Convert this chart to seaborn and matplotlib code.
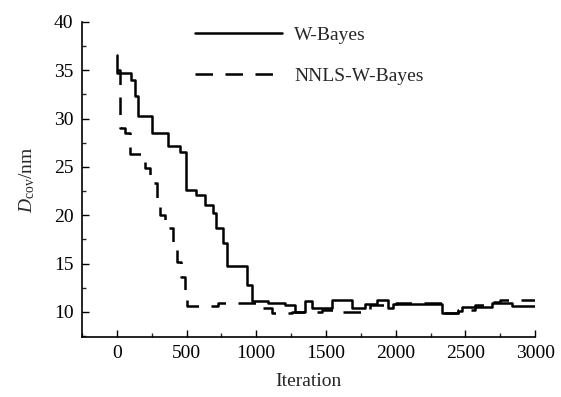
import matplotlib
matplotlib.use("Agg")
import matplotlib.pyplot as plt
import seaborn as sns
import pandas as pd
from matplotlib.ticker import MultipleLocator

# W-Bayes step curve (iteration, D_cov)
wb_x = [0, 2, 105, 130, 150, 250, 365, 452, 493, 571, 632, 691, 715, 763, 787, 931, 967,
        1086, 1206, 1278, 1350, 1400, 1541, 1685, 1780, 1864, 1948, 1984, 2331, 2450,
        2474, 2690, 2833, 3000]
wb_y = [36.6, 34.7, 34.0, 32.3, 30.3, 28.5, 27.2, 26.5, 22.6, 22.1, 21.1, 20.2, 18.7, 17.1,
        14.8, 12.8, 11.1, 10.9, 10.7, 10.0, 11.1, 10.4, 11.2, 10.4, 10.8, 11.2, 10.4, 10.8,
        9.9, 10.1, 10.5, 10.9, 10.6, 10.6]

# NNLS-W-Bayes step curve
nn_x = [0, 20, 60, 95, 200, 237, 285, 309, 345, 404, 435, 459, 488, 500, 727, 1003, 1110,
        1254, 1470, 1600, 1660, 1815, 2000, 2331, 2450, 2570, 2650, 2750, 3000]
nn_y = [35.0, 29.0, 28.5, 26.3, 24.9, 23.3, 21.6, 20.0, 18.7, 17.0, 15.2, 13.6, 11.9, 10.6,
        10.9, 10.4, 9.9, 10.0, 10.2, 10.0, 10.0, 10.7, 10.9, 9.9, 10.2, 10.7, 11.0, 11.2, 11.2]

labels = ["W-Bayes", "NNLS-W-Bayes"]
x_ticks = [0, 500, 1000, 1500, 2000, 2500, 3000]
y_ticks = [10, 15, 20, 25, 30, 35, 40]

sns.set_theme(style="ticks")
plt.rcParams['font.family'] = ['Liberation Serif', 'DejaVu Serif']
plt.rcParams['mathtext.fontset'] = 'custom'
plt.rcParams['mathtext.rm'] = 'Liberation Serif'
plt.rcParams['mathtext.it'] = 'Liberation Serif:italic'

fig = plt.figure(figsize=(5.61, 3.97), dpi=100)
ax = fig.add_axes([0.146, 0.151, 0.808, 0.794])

dash = (0, (7, 5))

df1 = pd.DataFrame({"x": wb_x, "y": wb_y})
df2 = pd.DataFrame({"x": nn_x, "y": nn_y})
sns.lineplot(data=df1, x="x", y="y", ax=ax, color="black", lw=1.8,
             drawstyle="steps-post", estimator=None, sort=False, label=labels[0])
sns.lineplot(data=df2, x="x", y="y", ax=ax, color="black", lw=1.8,
             drawstyle="steps-post", estimator=None, sort=False, label=labels[1])
ax.lines[1].set_linestyle(dash)

ax.set_xlim(-250, 3000)
ax.set_ylim(7.4, 40)
ax.set_xticks(x_ticks)
ax.set_yticks(y_ticks)
ax.xaxis.set_minor_locator(MultipleLocator(250))
ax.yaxis.set_minor_locator(MultipleLocator(2.5))
ax.tick_params(axis='both', which='major', direction='in', length=5, width=1,
               labelsize=14, colors='black', pad=6)
ax.tick_params(axis='both', which='minor', direction='in', length=3, width=1)
for s in ["top", "right"]:
    ax.spines[s].set_visible(False)
for s in ["left", "bottom"]:
    ax.spines[s].set_linewidth(1.2)
    ax.spines[s].set_color("black")

ax.set_xlabel("Iteration", fontsize=14, labelpad=8)
ax.set_ylabel(r"$D_{\mathrm{cov}}$/nm", fontsize=14, labelpad=12)

leg = ax.legend(loc="upper left", bbox_to_anchor=(0.316, 0.977), bbox_transform=fig.transFigure,
                frameon=False, fontsize=14, handlelength=4.5, handletextpad=0.6,
                labelspacing=1.2)
leg.get_lines()[1].set_linestyle(dash)

fig.savefig("out.png", dpi=100)
